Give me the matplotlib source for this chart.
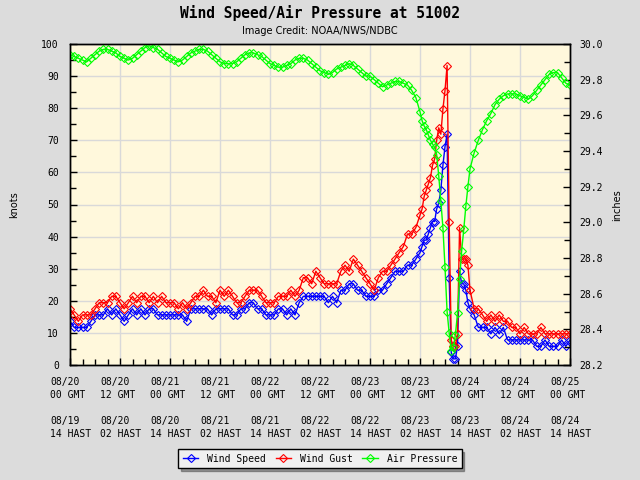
import matplotlib
matplotlib.use("Agg")
import matplotlib.pyplot as plt
import matplotlib.transforms as mtransforms

# hours after 08/20 00 GMT (half-hourly around the storm peak)
hours = list(range(0, 84)) + [84, 84.5, 85, 85.5, 86, 86.5, 87, 87.5, 88, 88.5, 89, 89.5,
                              90, 90.5, 91, 91.5, 92, 92.5, 93, 93.5, 94, 94.5, 95, 95.5, 96] \
        + list(range(97, 121))

# wind speed, knots
wind_speed = [
    13.6, 11.7, 11.7, 11.7, 11.7, 13.6, 15.6, 15.6, 15.6, 17.5, 15.6, 17.5,
    15.6, 13.6, 15.6, 17.5, 15.6, 17.5, 15.6, 17.5, 17.5, 15.6, 15.6, 15.6,
    15.6, 15.6, 15.6, 15.6, 13.6, 17.5, 17.5, 17.5, 17.5, 17.5, 15.6, 17.5,
    17.5, 17.5, 17.5, 15.6, 15.6, 17.5, 17.5, 19.4, 19.4, 17.5, 17.5, 15.6,
    15.6, 15.6, 17.5, 17.5, 15.6, 17.5, 15.6, 19.4, 21.4, 21.4, 21.4, 21.4,
    21.4, 21.4, 19.4, 21.4, 19.4, 23.3, 23.3, 25.3, 25.3, 23.3, 23.3, 21.4,
    21.4, 21.4, 23.3, 23.3, 25.3, 27.2, 29.2, 29.2, 29.2, 31.1, 31.1, 33.0,
    35.0, 36.9, 38.9, 38.9, 40.8, 42.8, 44.7, 44.7, 48.6, 50.5, 54.4, 62.2,
    68.0, 71.9, 27.2, 3.9, 1.9, 1.9, 5.8, 29.2, 25.3, 25.3, 23.3, 19.4, 17.5,
    15.6, 11.7, 11.7, 11.7, 9.7, 11.7, 9.7, 11.7, 7.8, 7.8, 7.8, 7.8,
    7.8, 7.8, 7.8, 5.8, 5.8, 7.8, 5.8, 5.8, 5.8, 7.8, 5.8, 7.8,
]

# wind gust, knots
wind_gust = [
    17.5, 15.6, 13.6, 15.6, 15.6, 15.6, 17.5, 19.4, 19.4, 19.4, 21.4, 21.4,
    19.4, 17.5, 19.4, 21.4, 19.4, 21.4, 21.4, 19.4, 21.4, 19.4, 21.4, 19.4,
    19.4, 19.4, 17.5, 19.4, 17.5, 19.4, 21.4, 21.4, 23.3, 21.4, 21.4, 19.4,
    23.3, 21.4, 23.3, 21.4, 19.4, 19.4, 21.4, 23.3, 23.3, 23.3, 21.4, 19.4,
    19.4, 19.4, 21.4, 21.4, 21.4, 23.3, 21.4, 23.3, 27.2, 27.2, 25.3, 29.2,
    27.2, 25.3, 25.3, 25.3, 25.3, 29.2, 31.1, 29.2, 33.0, 31.1, 29.2, 27.2,
    25.3, 23.3, 27.2, 29.2, 29.2, 31.1, 33.0, 35.0, 36.9, 40.8, 40.8, 42.8,
    46.7, 48.6, 52.5, 54.4, 56.4, 58.3, 62.2, 64.1, 70.0, 73.9, 71.9, 79.7,
    85.5, 93.3, 44.7, 7.8, 5.8, 5.8, 9.7, 42.8, 33.0, 33.0, 33.0, 31.1, 23.3,
    17.5, 17.5, 15.6, 13.6, 15.6, 13.6, 15.6, 13.6, 13.6, 11.7, 11.7, 9.7,
    11.7, 9.7, 9.7, 9.7, 11.7, 9.7, 9.7, 9.7, 9.7, 9.7, 9.7, 9.7,
]

# air pressure, inches
pressure = [
    29.94, 29.93, 29.92, 29.91, 29.90, 29.92, 29.94, 29.96, 29.97, 29.97, 29.96, 29.95,
    29.93, 29.92, 29.91, 29.92, 29.94, 29.96, 29.98, 29.99, 29.98, 29.97, 29.95, 29.93,
    29.92, 29.91, 29.90, 29.91, 29.93, 29.95, 29.96, 29.97, 29.97, 29.96, 29.94, 29.92,
    29.90, 29.89, 29.89, 29.89, 29.90, 29.92, 29.94, 29.95, 29.95, 29.94, 29.93, 29.91,
    29.89, 29.88, 29.87, 29.87, 29.88, 29.89, 29.91, 29.92, 29.92, 29.91, 29.89, 29.87,
    29.85, 29.84, 29.83, 29.84, 29.86, 29.87, 29.88, 29.89, 29.88, 29.86, 29.84, 29.82,
    29.82, 29.80, 29.78, 29.76, 29.77, 29.78, 29.79, 29.79, 29.78, 29.77, 29.74, 29.70,
    29.62, 29.57, 29.54, 29.52, 29.49, 29.46, 29.44, 29.42, 29.38, 29.26, 29.12, 28.97,
    28.75, 28.50, 28.38, 28.28, 28.30, 28.37, 28.49, 28.68, 28.84, 28.96, 29.09, 29.20, 29.30,
    29.39, 29.46, 29.52, 29.57, 29.61, 29.66, 29.69, 29.71, 29.72, 29.72, 29.72, 29.71,
    29.70, 29.69, 29.71, 29.74, 29.77, 29.80, 29.83, 29.84, 29.84, 29.81, 29.78, 29.77,
]

tick_hours = [0, 12, 24, 36, 48, 60, 72, 84, 96, 108, 120]
gmt_labels = ['08/20\n00 GMT', '08/20\n12 GMT', '08/21\n00 GMT', '08/21\n12 GMT',
              '08/22\n00 GMT', '08/22\n12 GMT', '08/23\n00 GMT', '08/23\n12 GMT',
              '08/24\n00 GMT', '08/24\n12 GMT', '08/25\n00 GMT']
hast_labels = ['08/19\n14 HAST', '08/20\n02 HAST', '08/20\n14 HAST', '08/21\n02 HAST',
               '08/21\n14 HAST', '08/22\n02 HAST', '08/22\n14 HAST', '08/23\n02 HAST',
               '08/23\n14 HAST', '08/24\n02 HAST', '08/24\n14 HAST']

mono = 'DejaVu Sans Mono'
bg = '#dcdcdc'
mk = dict(lw=1, marker='D', ms=4.5, mfc='none', mew=0.8)

fig = plt.figure(figsize=(6.4, 4.8), dpi=100, facecolor=bg)
ax1 = fig.add_axes([70 / 640, 1 - 365 / 480, 500 / 640, 321 / 480])
ax1.set_facecolor('#fff8dc')

l1, = ax1.plot(hours, wind_speed, color='#0000ff', label='Wind Speed', **mk)
l2, = ax1.plot(hours, wind_gust, color='#ff0000', label='Wind Gust', **mk)
ax1.set_xlim(0, 120)
ax1.set_ylim(0, 100)
ax1.set_yticks(range(0, 101, 10))
ax1.set_yticks(range(5, 100, 10), minor=True)
ax1.set_xticks(tick_hours)
ax1.set_xticks(range(3, 120, 3), minor=True)
ax1.set_xticklabels([g + '\n\n' + h for g, h in zip(gmt_labels, hast_labels)],
                    family=mono, fontsize=7, linespacing=1.35)
ax1.grid(which='major', color='#d9d9d9', lw=1)
ax1.set_axisbelow(True)
ax1.tick_params(axis='both', which='both', direction='in', top=False, right=False,
                labelsize=7, width=1)
ax1.tick_params(axis='both', which='major', length=5)
ax1.tick_params(axis='both', which='minor', length=4)
ax1.tick_params(axis='x', pad=9)
ax1.tick_params(axis='y', pad=8)
for lbl in ax1.get_yticklabels():
    lbl.set_family(mono)

# left-align the date labels a bit before each tick
offset = mtransforms.ScaledTranslation(-20 / 100, 0, fig.dpi_scale_trans)
for lbl in ax1.get_xticklabels():
    lbl.set_horizontalalignment('left')
    lbl.set_transform(lbl.get_transform() + offset)

ax2 = ax1.twinx()
l3, = ax2.plot(hours, pressure, color='#00ff00', label='Air Pressure', **mk)
ax2.set_ylim(28.2, 30.0)
ax2.set_yticks([28.2, 28.4, 28.6, 28.8, 29.0, 29.2, 29.4, 29.6, 29.8, 30.0])
ax2.set_yticks([28.3, 28.5, 28.7, 28.9, 29.1, 29.3, 29.5, 29.7, 29.9], minor=True)
ax2.set_yticklabels(['28.2', '28.4', '28.6', '28.8', '29.0', '29.2', '29.4', '29.6',
                     '29.8', '30.0'], family=mono, fontsize=7)
ax2.tick_params(axis='y', which='both', direction='in', width=1, pad=7)
ax2.tick_params(axis='y', which='major', length=5)
ax2.tick_params(axis='y', which='minor', length=4)

for a in (ax1, ax2):
    for s in a.spines.values():
        s.set_linewidth(1)

fig.text(0.5, 1 - 13 / 480, 'Wind Speed/Air Pressure at 51002', ha='center', va='center',
         family=mono, fontsize=10.5, fontweight='bold')
fig.text(0.5, 1 - 31 / 480, 'Image Credit: NOAA/NWS/NDBC', ha='center', va='center',
         fontsize=7)
fig.text(14 / 640, 1 - 205 / 480, 'knots', rotation=90, ha='center', va='center', fontsize=7)
fig.text(617 / 640, 1 - 205 / 480, 'inches', rotation=90, ha='center', va='center', fontsize=7)

leg = fig.legend([l1, l2, l3], ['Wind Speed', 'Wind Gust', 'Air Pressure'], loc='center',
                 bbox_to_anchor=(320 / 640, 1 - 458.5 / 480), ncol=3,
                 prop={'family': mono, 'size': 7}, fancybox=False, shadow=True,
                 facecolor='#f0f0f0', edgecolor='black', framealpha=1,
                 handlelength=1.6, handletextpad=0.9, columnspacing=1.0, borderpad=0.45)
leg.get_frame().set_linewidth(1)

fig.savefig('out.png', dpi=100, facecolor=bg)
